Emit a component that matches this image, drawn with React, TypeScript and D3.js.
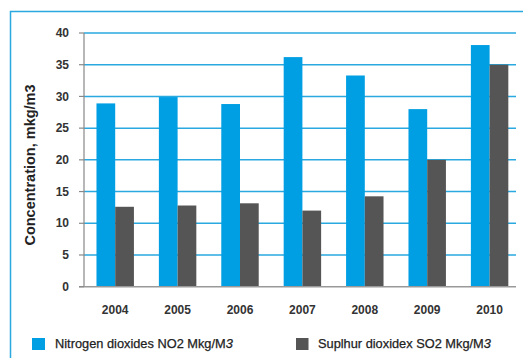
import React from "react";
import * as d3 from "d3";

const years = ["2004", "2005", "2006", "2007", "2008", "2009", "2010"];
const no2 = [28.9, 29.9, 28.8, 36.2, 33.3, 28.0, 38.1];
const so2 = [12.6, 12.8, 13.15, 12.0, 14.25, 20.0, 35.0];
const yTicks = [0, 5, 10, 15, 20, 25, 30, 35, 40];
const seriesNames = ["Nitrogen dioxides NO2 Mkg/M", "Suplhur dioxidex SO2 Mkg/M"];

const BLUE = "#009FE3";
const GRAY = "#555555";
const GRID = "#2AA9E0";
const FONT = "'Liberation Sans', Arial, sans-serif";

export default function App() {
  const W = 523, H = 358;
  const x0 = 84, x1 = 520.8, gridEnd = 516;
  const y = d3.scaleLinear().domain([0, 40]).range([286.7, 33]);
  const x = d3.scaleBand().domain(years).range([x0, x1]).paddingInner(0.4).paddingOuter(0.2);
  const bw = x.bandwidth() / 2;
  return (
    <svg width={W} height={H} style={{ position: "absolute", left: 0, top: 0, background: "#fff" }}>
      <rect x={10.5} y={11.5} width={540} height={400} fill="none" stroke={GRID} strokeWidth={1.5} />
      {yTicks.filter(t => t > 0).map(t => (
        <line key={t} x1={x0} x2={gridEnd} y1={y(t)} y2={y(t)} stroke={GRID} strokeWidth={1.5} />
      ))}
      {years.map((yr, i) => (
        <g key={yr}>
          <rect x={x(yr)!} y={y(no2[i])} width={bw} height={y(0) - y(no2[i])} fill={BLUE} />
          <rect x={x(yr)! + bw} y={y(so2[i])} width={bw} height={y(0) - y(so2[i])} fill={GRAY} />
        </g>
      ))}
      <line x1={x0} x2={x0} y1={y(40)} y2={y(0)} stroke="#888" strokeWidth={1.2} />
      <line x1={x0 - 5} x2={gridEnd} y1={y(0)} y2={y(0)} stroke="#999" strokeWidth={1.5} />
      {yTicks.map(t => (
        <g key={t}>
          <line x1={x0 - 5} x2={x0} y1={y(t)} y2={y(t)} stroke="#888" strokeWidth={1.2} />
          <text x={69} y={y(t)} dy="0.35em" textAnchor="end" fontFamily={FONT} fontWeight="bold" fontSize={12} fill="#333">{t}</text>
        </g>
      ))}
      {years.map(yr => (
        <text key={yr} x={x(yr)! + x.bandwidth() / 2} y={310} dy="0.35em" textAnchor="middle" fontFamily={FONT} fontWeight="bold" fontSize={12} fill="#333">{yr}</text>
      ))}
      <text transform={`translate(35,165) rotate(-90)`} textAnchor="middle" fontFamily={FONT} fontWeight="bold" fontSize={14.5} fill="#222">Concentration, mkg/m3</text>
      <rect x={32} y={338} width={13} height={12} fill={BLUE} />
      <text x={55} y={348} fontFamily={FONT} fontSize={12.8} fill="#222" stroke="#222" strokeWidth={0.25}>{seriesNames[0]}<tspan fontStyle="italic">3</tspan></text>
      <rect x={296} y={338} width={12.5} height={12} fill={GRAY} />
      <text x={318} y={348} fontFamily={FONT} fontSize={12.8} fill="#222" stroke="#222" strokeWidth={0.25}>{seriesNames[1]}<tspan fontStyle="italic">3</tspan></text>
    </svg>
  );
}
